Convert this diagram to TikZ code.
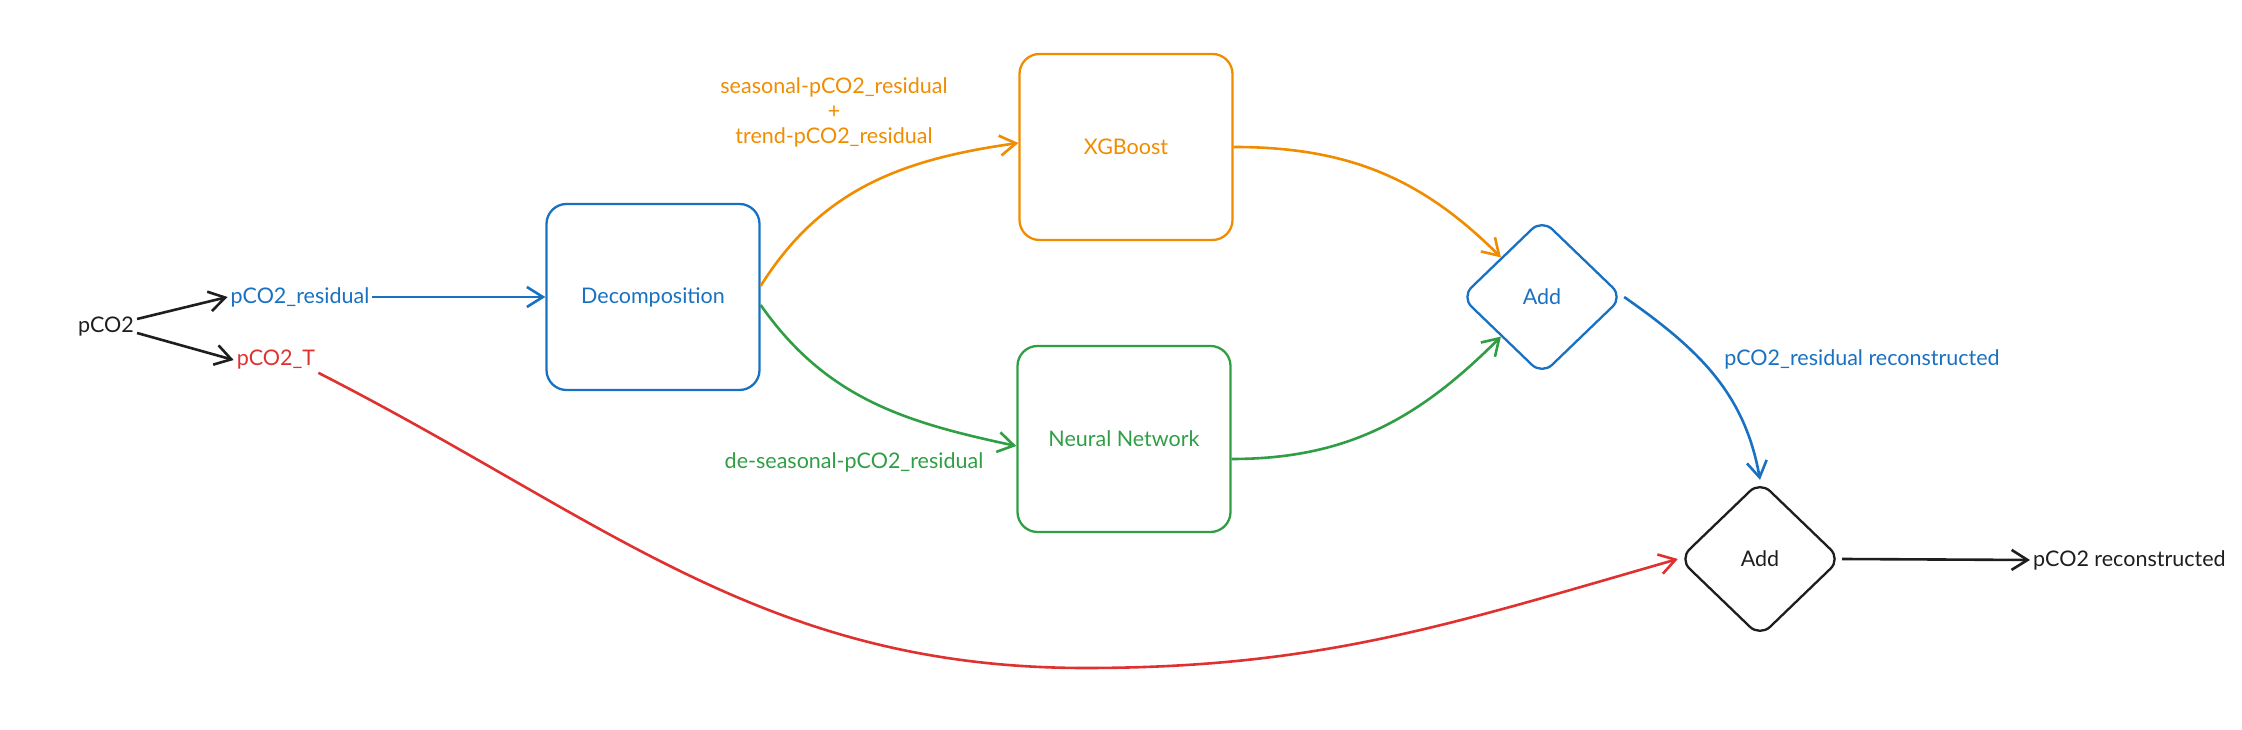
\documentclass[tikz,border=0pt]{standalone}
\usepackage{fontspec}
\setmainfont{Lato}
\usetikzlibrary{arrows.meta, positioning, calc, shapes.geometric}
\definecolor{exblue}{RGB}{25,113,194}
\definecolor{exorange}{RGB}{240,140,0}
\definecolor{exgreen}{RGB}{47,158,68}
\definecolor{exred}{RGB}{224,49,49}
\definecolor{exblack}{RGB}{30,30,30}

\begin{document}
\begin{tikzpicture}[x=1pt, y=1pt,
    txt/.style={font=\fontsize{21.5}{25}\selectfont, inner sep=3pt},
    stage/.style={txt, draw, rounded corners=20pt, line width=2.3pt, minimum width=213pt, minimum height=186pt},
    adder/.style={txt, draw, diamond, rounded corners=14pt, line width=2.3pt, minimum width=162pt, minimum height=156pt, inner sep=0pt},
    flow/.style={line width=2.6pt, -{Straight Barb[length=16pt, width=20pt]}}]
  \useasboundingbox (0,0) rectangle (2242,730);

  % Inputs
  \node[txt, exblack] (pco2) at (106,403) {pCO2};
  \node[txt, exblue] (res) at (300,433) {pCO2\_residual};
  \node[txt, exred] (tee) at (276,370) {pCO2\_T};

  % Models
  \node[stage, exblue] (dec) at (653,433) {Decomposition};
  \node[stage, exorange] (xgb) at (1126,583) {XGBoost};
  \node[stage, exgreen] (nn) at (1124,291) {Neural Network};

  % Adders and output
  \node[adder, exblue] (add1) at (1542,433) {Add};
  \node[adder, exblack] (add2) at (1760,171) {Add};
  \node[txt, exblack, anchor=west] (out) at (2030,170) {pCO2 reconstructed};

  % Labels
  \node[txt, exorange, align=center] (lblx) at (834,618) {seasonal-pCO2\_residual\\+\\trend-pCO2\_residual};
  \node[txt, exgreen] (lbln) at (854,268) {de-seasonal-pCO2\_residual};
  \node[txt, exblue] (lbla) at (1862,371) {pCO2\_residual reconstructed};

  % Arrows
  \draw[flow, exblack] ([yshift=8pt]pco2.east) -- (res.west);
  \draw[flow, exblack] ([yshift=-6pt]pco2.east) -- (tee.west);
  \draw[flow, exblue] (res.east) -- (dec.west);
  \draw[flow, exorange] ([yshift=11pt]dec.east) to[out=58, in=188] ([yshift=4pt]xgb.west);
  \draw[flow, exgreen] ([yshift=-8pt]dec.east) to[out=-55, in=168] ([yshift=-7pt]nn.west);
  \draw[flow, exorange] (xgb.east) to[out=0, in=135] (add1.north west);
  \draw[flow, exgreen] ([yshift=-20pt]nn.east) to[out=0, in=-135] (add1.south west);
  \draw[flow, exblue] (add1.east) to[out=-35, in=100] (add2.north);

  % Long red path
  \coordinate (low) at (1085,62);
  \draw[flow, exred] (tee.south east) to[out=-27, in=180] (low) to[out=0, in=196] (add2.west);
  \draw[flow, exblack] (add2.east) -- (out.west);
\end{tikzpicture}
\end{document}
